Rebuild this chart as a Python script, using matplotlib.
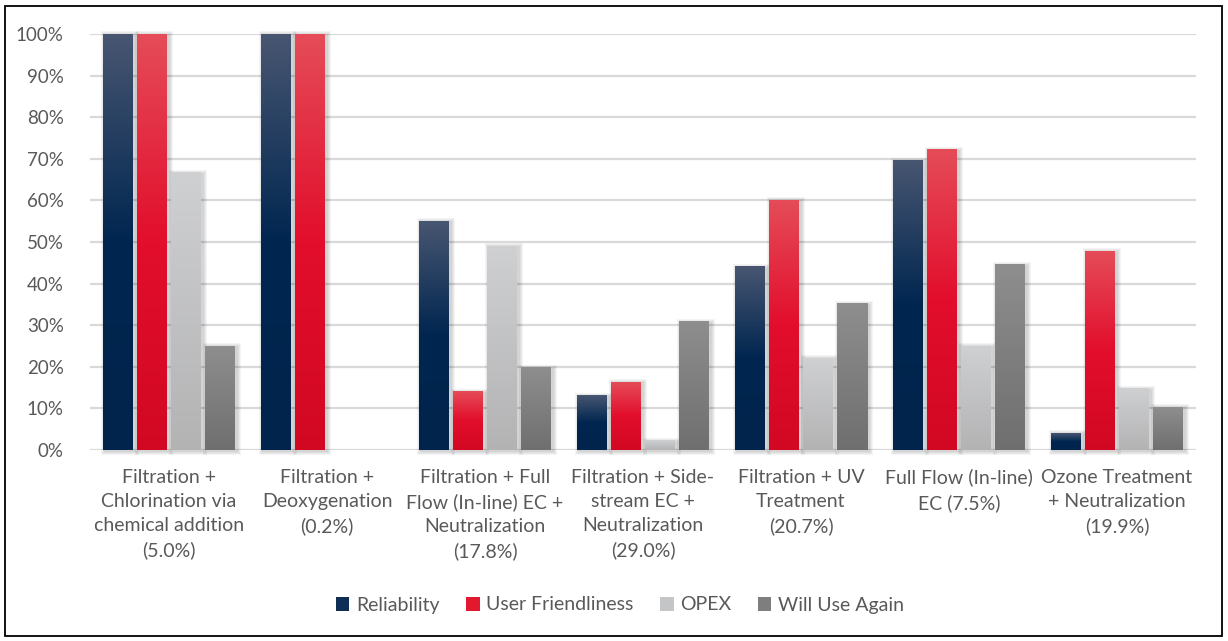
import numpy as np
import matplotlib
matplotlib.use("Agg")
import matplotlib.pyplot as plt
from matplotlib.colors import LinearSegmentedColormap
from matplotlib.patches import Rectangle
from matplotlib.ticker import PercentFormatter

# ---------------- data ----------------
categories = [
    "Filtration +\nChlorination via\nchemical addition\n(5.0%)",
    "Filtration +\nDeoxygenation\n(0.2%)",
    "Filtration + Full\nFlow (In-line) EC +\nNeutralization\n(17.8%)",
    "Filtration + Side-\nstream EC +\nNeutralization\n(29.0%)",
    "Filtration + UV\nTreatment\n(20.7%)",
    "Full Flow (In-line)\nEC (7.5%)",
    "Ozone Treatment\n+ Neutralization\n(19.9%)",
]
series_names = ["Reliability", "User Friendliness", "OPEX", "Will Use Again"]
reliability = [100, 100, 55, 13, 44, 69.5, 4]
user_friendliness = [100, 100, 14, 16.3, 60, 72.2, 47.8]
opex = [66.7, 0, 49, 2.2, 22.1, 25, 14.7]
will_use_again = [25, 0, 19.8, 30.8, 35.1, 44.5, 10.3]
y_ticks = [0, 10, 20, 30, 40, 50, 60, 70, 80, 90, 100]

series_values = [reliability, user_friendliness, opex, will_use_again]
# gradient stops per series (top of bar -> bottom of bar)
gradients = [
    [(0.0, "#485671"), (0.5, "#002650"), (1.0, "#00244B")],
    [(0.0, "#E54C58"), (0.5, "#E20E2C"), (1.0, "#D20822")],
    [(0.0, "#CFD0D2"), (1.0, "#B3B3B4")],
    [(0.0, "#8E8E8E"), (1.0, "#6F6F6F")],
]
legend_colors = ["#0E2E55", "#E2182F", "#C4C5C7", "#7E7E7E"]

text_color = "#595959"
font = "Lato"

W, H = 1228, 641
fig = plt.figure(figsize=(W / 100, H / 100), dpi=100)
ax = fig.add_axes([90 / W, (H - 450) / H, (1196 - 90) / W, (450 - 34) / H])

n = len(categories)
x = np.arange(n)
bar_w = 30 / 158
step = 34 / 158
offsets = (np.arange(4) - 1.5) * step

px_x = 1 / 158          # one pixel in data x units
px_y = 1 / 4.16         # one pixel in data y units (percent)

ax.set_xlim(-0.5, n - 0.5)
ax.set_ylim(0, 100)

grad_img = np.linspace(0, 1, 256).reshape(-1, 1)
for i, (vals, stops) in enumerate(zip(series_values, gradients)):
    cmap = LinearSegmentedColormap.from_list(f"g{i}", stops)
    bars = ax.bar(x + offsets[i], vals, width=bar_w, color="none",
                  edgecolor="none", zorder=3, label=series_names[i])
    for b in bars:
        x0, y0 = b.get_x(), b.get_y()
        w, h = b.get_width(), b.get_height()
        if h <= 0:
            continue
        # soft shadow
        for k in range(1, 5):
            ax.add_patch(Rectangle((x0 - k * px_x + 1.5 * px_x, y0 - k * px_y - 1 * px_y),
                                   w + 2 * k * px_x, h + 2 * k * px_y,
                                   facecolor="black", edgecolor="none",
                                   alpha=0.045, zorder=2, clip_on=False))
        ax.imshow(grad_img, cmap=cmap, extent=(x0, x0 + w, y0, y0 + h),
                  origin="upper", aspect="auto", zorder=3, interpolation="bilinear")

ax.set_xlim(-0.5, n - 0.5)
ax.set_ylim(0, 100)

ax.set_yticks(y_ticks)
ax.yaxis.set_major_formatter(PercentFormatter(decimals=0))
ax.set_xticks(x)
ax.set_xticklabels(categories, fontsize=14, color=text_color, family=font,
                   va="top")
for lbl in ax.get_xticklabels():
    lbl.set_linespacing(1.5)
for lbl in ax.get_yticklabels():
    lbl.set_fontsize(13.5)
    lbl.set_color(text_color)
    lbl.set_family(font)
ax.tick_params(axis="y", length=0, pad=19)
ax.tick_params(axis="x", length=0, pad=13.5)

ax.grid(axis="y", color="#D9D9D9", linewidth=1.6, zorder=0)
ax.set_axisbelow(True)
for s in ax.spines.values():
    s.set_visible(False)

# legend with solid proxies
handles = [Rectangle((0, 0), 1, 1, facecolor=c, edgecolor="none") for c in legend_colors]
leg = fig.legend(handles, series_names, loc="center", bbox_to_anchor=(620 / W, (H - 605) / H),
                 ncol=4, frameon=False, handlelength=0.7, handleheight=0.7,
                 handletextpad=0.35, columnspacing=1.35,
                 prop={"family": font, "size": 14})
for t in leg.get_texts():
    t.set_color(text_color)

# outer border
fig.patches.append(Rectangle((5 / W, 5 / H), (W - 11) / W, (H - 11) / H,
                             transform=fig.transFigure, fill=False,
                             edgecolor="black", linewidth=1.3))

fig.savefig("out.png", dpi=100)
